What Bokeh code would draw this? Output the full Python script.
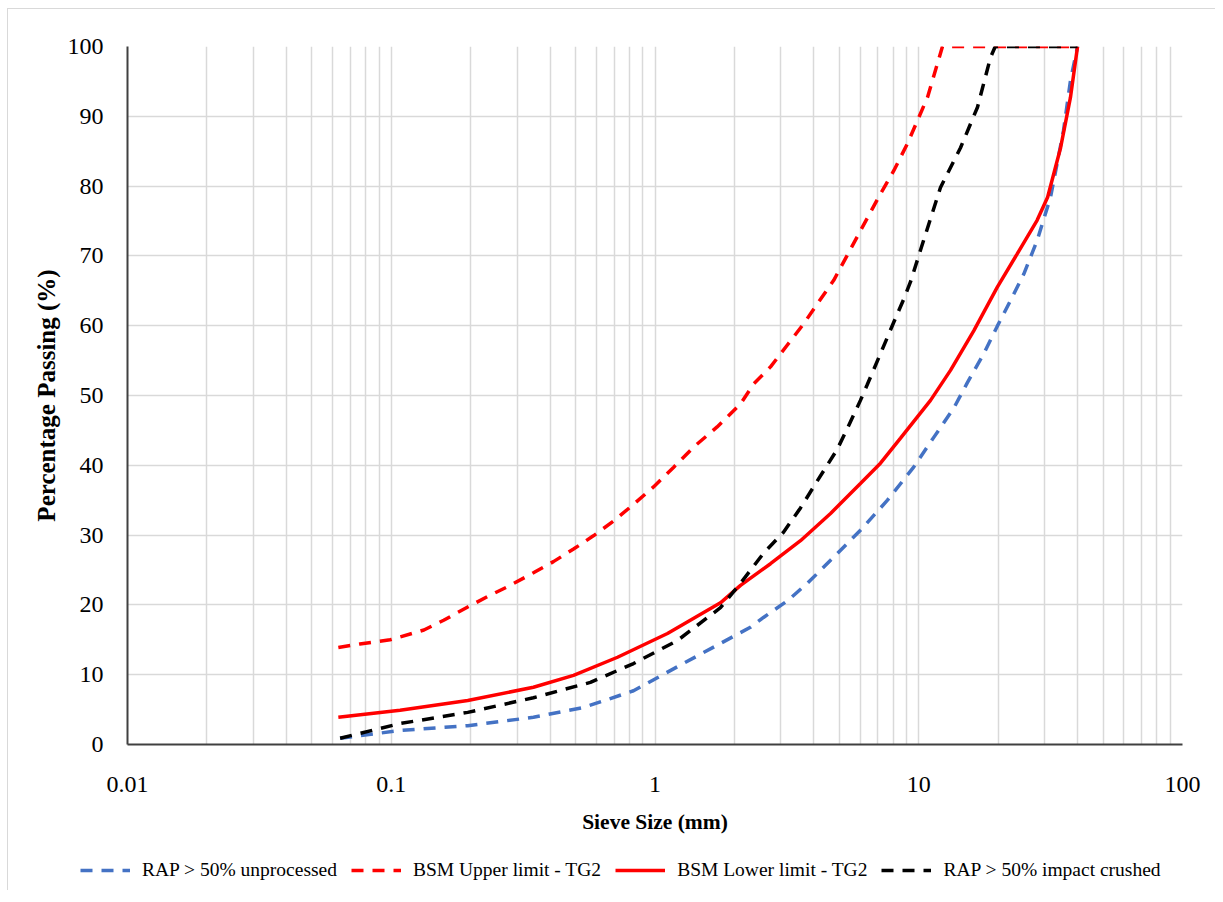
from bokeh.plotting import figure
from bokeh.models import FixedTicker, CustomJSTickFormatter, Legend, LegendItem, Range1d
from bokeh.embed import file_html
from bokeh.resources import INLINE

# ---- axis ticks ----
x_ticks = [0.01, 0.1, 1, 10, 100]
y_ticks = [0, 10, 20, 30, 40, 50, 60, 70, 80, 90, 100]
x_minor = [m * 10.0 ** k for k in range(-2, 2) for m in range(2, 10)]

# ---- series (sieve size mm, % passing) ----
unproc_x = [0.064, 0.108, 0.195, 0.346, 0.536, 0.829, 1.28, 2.30, 2.578, 3.18, 3.785,
            4.63, 6.01, 7.61, 9.55, 11.4, 13.58, 15.27, 17.65, 19.83, 22.28, 25.02,
            28.1, 31.6, 35.4, 37.6, 40]
unproc_y = [0.9, 2.0, 2.7, 3.9, 5.3, 7.7, 11.6, 16.8, 18.2, 20.6, 23.1,
            26.4, 30.7, 35.0, 39.7, 44.0, 48.2, 51.8, 56.0, 59.9, 63.6, 67.4,
            72.2, 78.4, 88.0, 95.1, 100]

upper_x = [0.063, 0.076, 0.099, 0.108, 0.133, 0.158, 0.195, 0.232, 0.276, 0.346, 0.412,
           0.491, 0.584, 0.696, 0.829, 0.987, 1.175, 1.40, 1.72, 2.11, 2.37, 2.741,
           3.17, 3.665, 4.12, 4.76, 5.05, 6.01, 7.16, 8.04, 9.06, 10.79, 12.3, 20, 40]
upper_y = [13.9, 14.4, 15.0, 15.4, 16.4, 17.8, 19.7, 21.2, 22.6, 24.6, 26.2,
           28.0, 29.9, 32.0, 34.4, 36.9, 39.7, 42.6, 45.5, 48.8, 51.7, 54.1,
           57.2, 60.3, 63.1, 66.5, 68.3, 73.6, 78.9, 82.2, 86.1, 92.7, 100, 100, 100]

lower_x = [0.063, 0.108, 0.195, 0.346, 0.491, 0.721, 1.115, 1.771, 2.110, 2.741, 3.562,
           4.63, 6.01, 7.16, 8.53, 11.08, 13.19, 16.18, 19.83, 23.62, 28.1, 30.8,
           34.5, 37.6, 40]
lower_y = [3.9, 4.9, 6.3, 8.2, 9.9, 12.5, 15.9, 20.3, 22.8, 25.9, 29.2,
           33.1, 37.4, 40.3, 43.9, 49.3, 53.6, 59.3, 65.5, 70.3, 75.1, 78.4,
           85.5, 92.7, 100]

crushed_x = [0.064, 0.108, 0.195, 0.346, 0.569, 0.829, 1.217, 1.771, 2.110, 2.578, 3.07,
             3.562, 4.13, 4.91, 5.35, 6.01, 6.37, 7.16, 8.04, 8.77, 9.31, 10.15, 12.09,
             14.4, 16.7, 18.7, 19.5, 40]
crushed_y = [0.9, 3.0, 4.6, 6.7, 8.9, 11.6, 14.9, 19.6, 23.1, 27.4, 30.4,
             33.9, 37.8, 42.3, 45.2, 49.3, 51.5, 56.0, 60.5, 63.8, 66.3, 70.8, 79.8,
             85.5, 91.3, 98.4, 100, 100]

labels = ["RAP > 50% unprocessed", "BSM Upper limit - TG2",
          "BSM Lower limit - TG2", "RAP > 50% impact crushed"]
colors = ["#4472C4", "#FF0000", "#FF0000", "#000000"]
dashes = ["12 9", "12 9", "solid", "12 9"]

FONT = "Liberation Serif"
GRID = "#d9d9d9"

p = figure(frame_width=1055, frame_height=698, x_axis_type="log",
           x_range=Range1d(0.01, 100), y_range=Range1d(0, 100),
           output_backend="svg", toolbar_location=None,
           min_border_left=119, min_border_right=33,
           min_border_top=37, min_border_bottom=106)
p.styles = {"border-top": "1px solid #d9d9d9", "border-left": "1px solid #d9d9d9",
            "margin-left": "7px", "margin-top": "8px"}
p.outline_line_color = None
p.background_fill_color = "white"

p.xaxis.ticker = FixedTicker(ticks=x_ticks, minor_ticks=x_minor)
p.xaxis.formatter = CustomJSTickFormatter(code="return tick.toString();")
p.yaxis.ticker = FixedTicker(ticks=y_ticks)

for ax in (p.xaxis, p.yaxis):
    ax.axis_line_color = "#404040"
    ax.axis_line_width = 2
    ax.major_tick_line_color = None
    ax.minor_tick_line_color = None
    ax.major_label_text_font = FONT
    ax.major_label_text_font_size = "24px"
    ax.major_label_text_color = "black"
    ax.axis_label_text_font = FONT
    ax.axis_label_text_font_style = "bold"
    ax.axis_label_text_color = "black"

p.xaxis.major_label_standoff = 26
p.yaxis.major_label_standoff = 18
p.xaxis.axis_label = "Sieve Size (mm)"
p.yaxis.axis_label = "Percentage Passing (%)"
p.xaxis.axis_label_text_font_size = "21.5px"
p.yaxis.axis_label_text_font_size = "25px"
p.xaxis.axis_label_standoff = 15
p.yaxis.axis_label_standoff = 5

p.xgrid.grid_line_color = GRID
p.xgrid.grid_line_width = 1.5
p.xgrid.minor_grid_line_color = GRID
p.xgrid.minor_grid_line_width = 1.5
p.ygrid.grid_line_color = GRID
p.ygrid.grid_line_width = 1.5

series = [(unproc_x, unproc_y), (upper_x, upper_y), (lower_x, lower_y), (crushed_x, crushed_y)]
for (sx, sy), c, d in zip(series, colors, dashes):
    p.line(sx, sy, line_color=c, line_width=3.5, line_dash=d)

# ---- legend strip below the chart (series lines lie outside its view) ----
q = figure(width=1207, height=40, x_axis_type="log",
           x_range=Range1d(0.01, 100), y_range=Range1d(200, 300),
           output_backend="svg", toolbar_location=None, min_border=0,
           x_axis_location=None, y_axis_location=None)
q.grid.visible = False
q.outline_line_color = None
q.styles = {"border-left": "1px solid #d9d9d9", "margin-left": "7px"}
items = []
for (sx, sy), lab, c, d in zip(series, labels, colors, dashes):
    r = q.line(sx, sy, line_color=c, line_width=3.5, line_dash=d)
    items.append(LegendItem(label=lab, renderers=[r]))
legend = Legend(items=items, orientation="horizontal", location=(72, 9),
                glyph_width=50, glyph_height=20, label_standoff=12, spacing=14,
                label_text_font=FONT, label_text_font_size="19.5px",
                label_text_color="black",
                border_line_color=None, background_fill_alpha=0,
                padding=0, margin=0)
q.add_layout(legend, "center")

open("out.html", "w").write(file_html([p, q], INLINE))
